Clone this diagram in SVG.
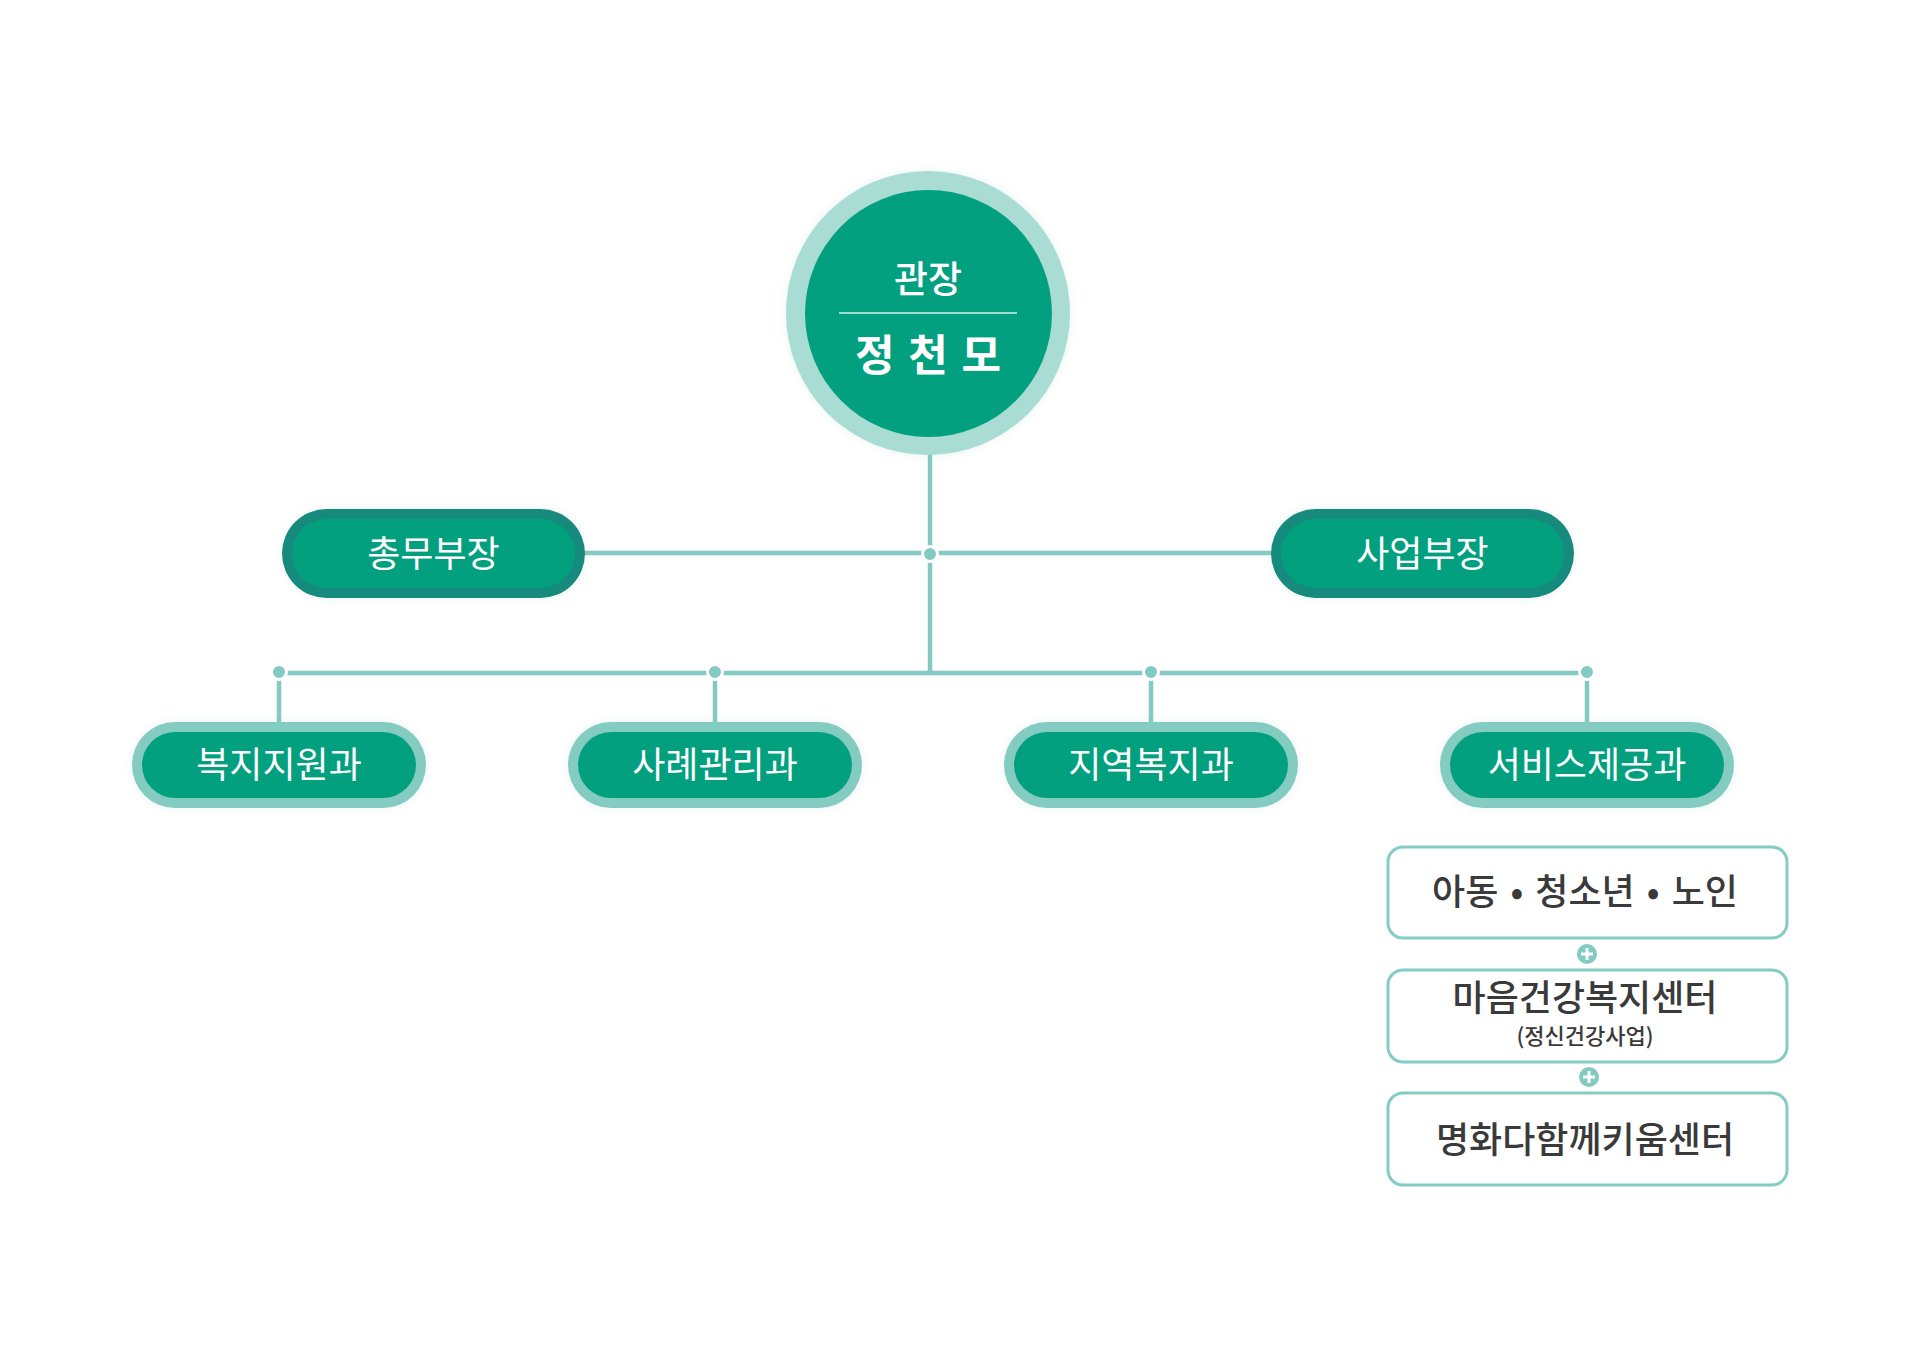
<svg xmlns="http://www.w3.org/2000/svg" width="1920" height="1358" viewBox="0 0 1920 1358">
<defs>
<style>
.t{font-family:"Noto Sans CJK KR","Noto Sans",sans-serif;text-anchor:middle}
.pill-t{fill:#ffffff;font-size:36px;font-weight:400}
.box-t{fill:#3a3a3a;font-size:36px;font-weight:500}
.line{stroke:#83cbc2;stroke-width:4.5;fill:none}
.dot{fill:#83cbc2;stroke:#ffffff;stroke-width:3}
.fill{fill:#03a07f}
.b-dark{fill:#178a7b}
.b-light{fill:#84cbc2}
.box{fill:#ffffff;stroke:#84cdc4;stroke-width:3}
</style>
<filter id="sh" x="-20%" y="-30%" width="140%" height="160%">
<feDropShadow dx="0" dy="0" stdDeviation="4" flood-color="#7fbfb5" flood-opacity="0.18"/>
</filter>
</defs>
<rect width="1920" height="1358" fill="#ffffff"/>

<g id="connectors">
<line class="line" x1="930" y1="450" x2="930" y2="673"/>
<line class="line" x1="580" y1="553" x2="1275" y2="553"/>
<line class="line" x1="279" y1="673" x2="1587" y2="673"/>
<line class="line" x1="279" y1="672" x2="279" y2="724"/>
<line class="line" x1="715" y1="672" x2="715" y2="724"/>
<line class="line" x1="1151" y1="672" x2="1151" y2="724"/>
<line class="line" x1="1587" y1="672" x2="1587" y2="724"/>
<circle class="dot" cx="930" cy="554" r="7.5"/>
<circle class="dot" cx="279" cy="672" r="7.5"/>
<circle class="dot" cx="715" cy="672" r="7.5"/>
<circle class="dot" cx="1151" cy="672" r="7.5"/>
<circle class="dot" cx="1587" cy="672" r="7.5"/>
<g id="plus1">
<circle cx="1587" cy="954" r="10" fill="#83cbc2"/>
<path d="M1581 954h12M1587 948v12" stroke="#ffffff" stroke-width="3"/>
</g>
<g id="plus2">
<circle cx="1589" cy="1077" r="10" fill="#83cbc2"/>
<path d="M1583 1077h12M1589 1071v12" stroke="#ffffff" stroke-width="3"/>
</g>
</g>

<g id="director">
<circle cx="928" cy="313" r="142" fill="#a9ddd4" filter="url(#sh)"/>
<circle cx="928.5" cy="313.5" r="123.5" class="fill"/>
<text class="t" x="928" y="293" fill="#ffffff" font-size="37" font-weight="500">관장</text>
<line x1="839" y1="313" x2="1017" y2="313" stroke="#d8f0ea" stroke-width="1.5"/>
<text class="t" x="929" y="371" fill="#ffffff" font-size="43" font-weight="700" letter-spacing="2">정 천 모</text>
</g>

<g id="general-manager">
<rect x="282" y="509" width="303" height="89" rx="44.5" class="b-dark" filter="url(#sh)"/>
<rect x="292" y="519" width="283" height="69" rx="34.5" class="fill"/>
<text class="t pill-t" x="433.5" y="567">총무부장</text>
</g>

<g id="business-manager">
<rect x="1271" y="509" width="303" height="89" rx="44.5" class="b-dark" filter="url(#sh)"/>
<rect x="1281" y="519" width="283" height="69" rx="34.5" class="fill"/>
<text class="t pill-t" x="1422.5" y="567">사업부장</text>
</g>

<g id="dept-welfare-support">
<rect x="132" y="722" width="294" height="86" rx="43" class="b-light" filter="url(#sh)"/>
<rect x="142" y="732" width="274" height="66" rx="33" class="fill"/>
<text class="t pill-t" x="279" y="778">복지지원과</text>
</g>

<g id="dept-case-management">
<rect x="568" y="722" width="294" height="86" rx="43" class="b-light" filter="url(#sh)"/>
<rect x="578" y="732" width="274" height="66" rx="33" class="fill"/>
<text class="t pill-t" x="715" y="778">사례관리과</text>
</g>

<g id="dept-community-welfare">
<rect x="1004" y="722" width="294" height="86" rx="43" class="b-light" filter="url(#sh)"/>
<rect x="1014" y="732" width="274" height="66" rx="33" class="fill"/>
<text class="t pill-t" x="1151" y="778">지역복지과</text>
</g>

<g id="dept-service">
<rect x="1440" y="722" width="294" height="86" rx="43" class="b-light" filter="url(#sh)"/>
<rect x="1450" y="732" width="274" height="66" rx="33" class="fill"/>
<text class="t pill-t" x="1587" y="778">서비스제공과</text>
</g>

<g id="box-children">
<rect x="1388" y="847" width="399" height="91" rx="15" class="box"/>
<text class="t box-t" x="1585" y="905" word-spacing="4">아동 • 청소년 • 노인</text>
</g>

<g id="box-mental">
<rect x="1388" y="970" width="399" height="92" rx="15" class="box"/>
<text class="t box-t" x="1585" y="1011">마음건강복지센터</text>
<text class="t" x="1585" y="1044" fill="#3a3a3a" font-size="22" font-weight="500">(정신건강사업)</text>
</g>

<g id="box-kium">
<rect x="1388" y="1093" width="399" height="92" rx="15" class="box"/>
<text class="t box-t" x="1585" y="1153">명화다함께키움센터</text>
</g>
</svg>
